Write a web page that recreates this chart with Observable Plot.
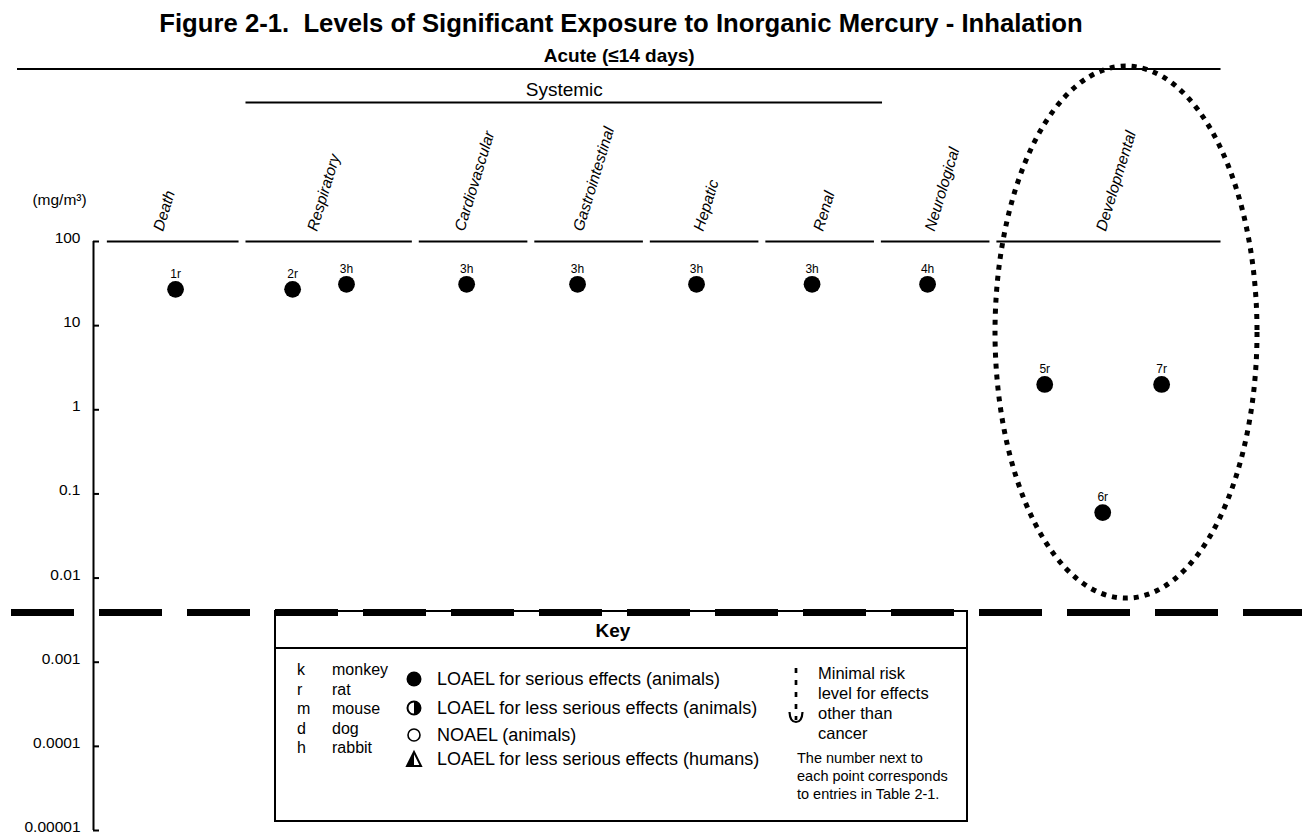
<!DOCTYPE html>
<html>
<head>
<meta charset="utf-8">
<script src="https://cdn.jsdelivr.net/npm/d3@7"></script>
<script src="https://cdn.jsdelivr.net/npm/@observablehq/plot@0.6"></script>
<style>
  html, body { margin: 0; padding: 0; background: #fff; }
  body { font-family: "Liberation Sans", Arial, Helvetica, sans-serif; color: #000; }
  #wrap { position: relative; width: 1306px; height: 835px; overflow: hidden; }
  #title { width: 1242px; height: 32px; padding-top: 8px; line-height: 30px; text-align: center;
           font-weight: bold; font-size: 25.7px; white-space: pre; }
  #chart svg { display: block; }
  #key { position: absolute; left: 274px; top: 610px; width: 694px; height: 212px;
         border: 2px solid #000; box-sizing: border-box; }
  #key .kh { position: absolute; left: 0; top: 0; width: 100%; height: 37px; border-bottom: 2px solid #000;
             box-sizing: border-box; text-align: center; line-height: 37px; font-weight: bold; font-size: 19px;
             padding-right: 16px; }
  #key .col { position: absolute; white-space: nowrap; }
  #key .sym { position: absolute; }
</style>
</head>
<body>
<div id="wrap">
  <div id="title"></div>
  <div id="chart"></div>
  <div id="key"></div>
</div>
<script>
// ---------------- data ----------------
const titleText = "Figure 2-1.  Levels of Significant Exposure to Inorganic Mercury - Inhalation";
const durationLabel = "Acute (≤14 days)";
const systemicLabel = "Systemic";
const unitLabel = "(mg/m³)";
const categories = ["Death", "Respiratory", "Cardiovascular", "Gastrointestinal", "Hepatic", "Renal", "Neurological", "Developmental"];
const systemicCategories = ["Respiratory", "Cardiovascular", "Gastrointestinal", "Hepatic", "Renal"];
const pointIds = ["1r", "2r", "3h", "3h", "3h", "3h", "3h", "4h", "5r", "6r", "7r"];
const pointCategories = ["Death", "Respiratory", "Respiratory", "Cardiovascular", "Gastrointestinal", "Hepatic", "Renal", "Neurological", "Developmental", "Developmental", "Developmental"];
const pointValues = [27, 27, 31, 31, 31, 31, 31, 31, 2, 0.06, 2];
const yTickValues = [100, 10, 1, 0.1, 0.01, 0.001, 0.0001, 0.00001];
const yTickLabels = ["100", "10", "1", "0.1", "0.01", "0.001", "0.0001", "0.00001"];
const separatorLevel = 0.0039;
const speciesCodes = ["k", "r", "m", "d", "h"];
const speciesNames = ["monkey", "rat", "mouse", "dog", "rabbit"];
const symbolKinds = ["serious", "lessSerious", "noael", "human"];
const symbolLabels = ["LOAEL for serious effects (animals)", "LOAEL for less serious effects (animals)", "NOAEL (animals)", "LOAEL for less serious effects (humans)"];
const mrlLines = ["Minimal risk", "level for effects", "other than", "cancer"];
const noteLines = ["The number next to", "each point corresponds", "to entries in Table 2-1."];
const keyTitle = "Key";

// ---------------- layout (not data) ----------------
const W = 1306, H = 795;
const ML = 93, MR = 0, MT = 201, MB = 5;
const xMax = 10.5;
const unitPx = (W - ML - MR) / xMax;
const catWidths = [1.2, 1.5, 1, 1, 1, 1, 1, 2];
const lead = 0.09, gap = 0.06;
const pointSlots = [0.517, 0.289, 0.60, 0.44, 0.40, 0.43, 0.43, 0.43, 0.222, 0.473, 0.728];
const labelShiftPx = [-15, -17, -14, -11, -6, -2, -6, -8];
const ellipseBox = { x1: 7.808, x2: 10.076, yLow: 0.0057, yHigh: 12000 };

let acc = lead;
const cats = categories.map((name, i) => {
  const s = acc; acc += catWidths[i];
  return { name, start: s, end: acc, x1: s + gap / 2, x2: acc - gap / 2, mid: (s + acc) / 2, shift: labelShiftPx[i] / unitPx };
});
const catBy = new Map(cats.map(c => [c.name, c]));
const points = pointIds.map((id, i) => {
  const c = catBy.get(pointCategories[i]);
  return { label: id, value: pointValues[i], x: c.start + pointSlots[i] * (c.end - c.start) };
});
const sysFirst = catBy.get(systemicCategories[0]);
const sysLast = catBy.get(systemicCategories[systemicCategories.length - 1]);
const acuteGroup = { label: durationLabel, x1: -76 / unitPx, x2: catBy.get("Developmental").x2 };
acuteGroup.mid = (acuteGroup.x1 + acuteGroup.x2) / 2;
const sysGroup = { label: systemicLabel, x1: sysFirst.x1, x2: sysLast.x2 + 0.07 };
sysGroup.mid = (sysGroup.x1 + sysGroup.x2) / 2;

document.getElementById("title").textContent = titleText;

const ellipseMark = (index, scales) => {
  const ns = "http://www.w3.org/2000/svg";
  const xa = scales.x(ellipseBox.x1), xb = scales.x(ellipseBox.x2);
  const ya = scales.y(ellipseBox.yHigh), yb = scales.y(ellipseBox.yLow);
  const e = document.createElementNS(ns, "ellipse");
  e.setAttribute("cx", (xa + xb) / 2);
  e.setAttribute("cy", (ya + yb) / 2);
  e.setAttribute("rx", Math.abs(xb - xa) / 2);
  e.setAttribute("ry", Math.abs(yb - ya) / 2);
  e.setAttribute("fill", "none");
  e.setAttribute("stroke", "#000");
  e.setAttribute("stroke-width", 5);
  e.setAttribute("stroke-dasharray", "5 6");
  return e;
};

const chart = Plot.plot({
  width: W, height: H,
  marginLeft: ML, marginRight: MR, marginTop: MT, marginBottom: MB,
  x: { type: "linear", domain: [0, xMax], axis: null },
  y: { type: "log", domain: [yTickValues[yTickValues.length - 1], yTickValues[0]], axis: null },
  style: { fontFamily: "'Liberation Sans', Arial, Helvetica, sans-serif", color: "#000", background: "transparent", overflow: "visible" },
  marks: [
    // y axis
    Plot.ruleX([0], { y1: yTickValues[yTickValues.length - 1], y2: yTickValues[0], stroke: "#000", strokeWidth: 2 }),
    Plot.ruleY(yTickValues, { x1: 0, x2: 6 / unitPx, stroke: "#000", strokeWidth: 2 }),
    Plot.text(yTickValues, { x: 0, y: d => d, text: (d, i) => yTickLabels[i], dx: -13, dy: -3.5, textAnchor: "end", lineAnchor: "middle", fontSize: 15.5, fill: "#000" }),
    Plot.text([unitLabel], { x: -34 / unitPx, frameAnchor: "top", dy: -41, lineAnchor: "middle", text: d => d, fontSize: 15.5, fill: "#000" }),
    // group headers
    Plot.ruleY([acuteGroup], { y: () => yTickValues[0], x1: "x1", x2: "x2", dy: -172.5, stroke: "#000", strokeWidth: 2 }),
    Plot.text([acuteGroup], { x: "mid", text: "label", frameAnchor: "top", dy: -186, lineAnchor: "middle", fontSize: 19, fontWeight: "bold", fill: "#000" }),
    Plot.ruleY([sysGroup], { y: () => yTickValues[0], x1: "x1", x2: "x2", dy: -139, stroke: "#000", strokeWidth: 2 }),
    Plot.text([sysGroup], { x: "mid", text: "label", frameAnchor: "top", dy: -152, lineAnchor: "middle", fontSize: 19, fill: "#000" }),
    // category lines and labels
    Plot.ruleY(cats, { y: () => yTickValues[0], x1: "x1", x2: "x2", stroke: "#000", strokeWidth: 2 }),
    Plot.text(cats, { x: d => d.mid + d.shift, text: "name", frameAnchor: "top", dy: -11, rotate: -73,
                      textAnchor: "start", lineAnchor: "middle", fontStyle: "italic", fontSize: 15.5, fill: "#000" }),
    // separator
    Plot.ruleY([separatorLevel], { x1: -82 / unitPx, x2: 1209 / unitPx, stroke: "#000", strokeWidth: 7, strokeDasharray: "63 25" }),
    // points
    Plot.dot(points, { x: "x", y: "value", r: 8.4, fill: "#000", stroke: "none" }),
    Plot.text(points, { x: "x", y: "value", text: "label", dy: -15.5, lineAnchor: "middle", fontSize: 12, fill: "#000" }),
    // highlight ellipse
    ellipseMark
  ]
});
document.getElementById("chart").appendChild(chart);

// ---------------- key ----------------
const key = document.getElementById("key");
const kh = document.createElement("div");
kh.className = "kh"; kh.textContent = keyTitle; key.appendChild(kh);

function colDiv(lines, left, top, lh, fs) {
  const d = document.createElement("div");
  d.className = "col";
  d.style.left = left + "px"; d.style.top = top + "px";
  d.style.lineHeight = lh + "px"; d.style.fontSize = fs + "px";
  lines.forEach((t, i) => { if (i) d.appendChild(document.createElement("br")); d.appendChild(document.createTextNode(t)); });
  key.appendChild(d);
  return d;
}
colDiv(speciesCodes, 21, 48, 19.5, 16);
colDiv(speciesNames, 56, 48, 19.5, 16);

const symCenters = [67, 96, 123, 147];
const ns = "http://www.w3.org/2000/svg";
symbolKinds.forEach((kind, i) => {
  const s = document.createElementNS(ns, "svg");
  s.setAttribute("width", 20); s.setAttribute("height", 20);
  s.setAttribute("class", "sym");
  s.style.left = (138 - 10) + "px"; s.style.top = (symCenters[i] - 10) + "px";
  let html = "";
  if (kind === "serious") html = '<circle cx="10" cy="10" r="7.5" fill="#000"/>';
  else if (kind === "lessSerious") html = '<circle cx="10" cy="10" r="6.5" fill="#fff" stroke="#000" stroke-width="2"/><path d="M10,3.5 A6.5,6.5 0 0 1 10,16.5 Z" fill="#000"/>';
  else if (kind === "noael") html = '<circle cx="10" cy="10" r="6" fill="none" stroke="#000" stroke-width="1.6"/>';
  else html = '<path d="M10,3 L17,17 L3,17 Z" fill="#fff" stroke="#000" stroke-width="2" stroke-linejoin="miter"/><path d="M10,3 L10,17 L3,17 Z" fill="#000"/>';
  s.innerHTML = html;
  key.appendChild(s);
  const t = document.createElement("div");
  t.className = "col";
  t.style.left = "161px"; t.style.top = (symCenters[i] - 11) + "px";
  t.style.lineHeight = "22px"; t.style.fontSize = "18px";
  t.textContent = symbolLabels[i];
  key.appendChild(t);
});

// MRL symbol
const m = document.createElementNS(ns, "svg");
m.setAttribute("width", 20); m.setAttribute("height", 60);
m.setAttribute("class", "sym");
m.style.left = (520 - 10) + "px"; m.style.top = "54px";
m.innerHTML = '<line x1="10" y1="2" x2="10" y2="54" stroke="#000" stroke-width="2.7" stroke-dasharray="5 7"/>' +
              '<path d="M3.5,46 Q4,56 10,56 Q16,56 16.5,46" fill="none" stroke="#000" stroke-width="2.2"/>';
key.appendChild(m);
colDiv(mrlLines, 542, 51, 20, 16.5);
colDiv(noteLines, 521, 137, 18, 14.5);
</script>
</body>
</html>
